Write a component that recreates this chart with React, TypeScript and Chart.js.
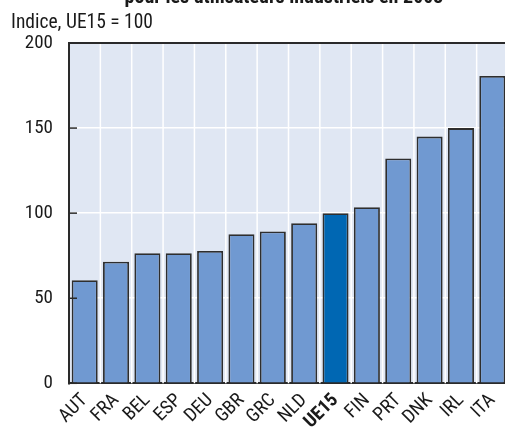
import React, { useEffect, useRef } from "react";
import { Chart, registerables } from "chart.js";

Chart.register(...registerables);

const categories = ["AUT", "FRA", "BEL", "ESP", "DEU", "GBR", "GRC", "NLD", "UE15", "FIN", "PRT", "DNK", "IRL", "ITA"];
const values = [60.6, 71.5, 76.5, 76.5, 77.8, 87.6, 89.2, 94.1, 100, 103.5, 132.1, 145, 150, 180.6];
const highlight = "UE15";
const yTicks = [0, 50, 100, 150, 200];
const titleText = "pour les utilisateurs industriels en 2003";
const unitText = "Indice, UE15 = 100";

const FONT = "Roboto, sans-serif";

export default function App() {
  const ref = useRef<HTMLCanvasElement | null>(null);

  useEffect(() => {
    if (!ref.current) return;
    document.body.style.margin = "0";

    const decor = {
      id: "decor",
      beforeDraw(chart: any) {
        const { ctx, chartArea: a } = chart;
        ctx.save();
        ctx.fillStyle = "#ffffff";
        ctx.fillRect(0, 0, chart.width, chart.height);
        ctx.fillStyle = "#e0e7f3";
        ctx.fillRect(a.left, a.top, a.right - a.left, a.bottom - a.top);
        ctx.restore();
      },
      beforeDatasetsDraw(chart: any) {
        const { ctx, chartArea: a, scales } = chart;
        const xs = scales.x;
        const half = (xs.getPixelForValue(1) - xs.getPixelForValue(0)) / 2;
        ctx.save();
        ctx.strokeStyle = "#ffffff";
        ctx.lineWidth = 1.5;
        categories.forEach((_, i) => {
          const x = xs.getPixelForValue(i) + half;
          ctx.beginPath();
          ctx.moveTo(x, a.top);
          ctx.lineTo(x, a.bottom);
          ctx.stroke();
        });
        ctx.restore();
      },
      afterDatasetsDraw(chart: any) {
        const { ctx, chartArea: a, scales } = chart;
        ctx.save();
        ctx.strokeStyle = "#2a2a2a";
        ctx.lineWidth = 1.5;
        for (const t of yTicks) {
          const y = scales.y.getPixelForValue(t);
          ctx.beginPath();
          ctx.moveTo(a.left, y);
          ctx.lineTo(a.left + 8, y);
          ctx.stroke();
        }
        ctx.lineWidth = 2;
        ctx.beginPath();
        ctx.moveTo(a.left - 1, a.top);
        ctx.lineTo(a.right, a.top);
        ctx.stroke();
        ctx.restore();
      },
      afterDraw(chart: any) {
        const { ctx } = chart;
        ctx.save();
        ctx.fillStyle = "#1a1a1a";
        ctx.textBaseline = "alphabetic";
        ctx.textAlign = "center";
        ctx.font = "bold condensed 20px " + FONT;
        ctx.fillText(titleText, 284, 3);
        ctx.textAlign = "left";
        ctx.font = "condensed 19.5px " + FONT;
        ctx.fillText(unitText, 11, 28);
        ctx.restore();
      },
    };

    const chart = new Chart(ref.current, {
      type: "bar",
      data: {
        labels: categories,
        datasets: [
          {
            data: values,
            backgroundColor: categories.map((c) => (c === highlight ? "#0067b3" : "#7099d1")),
            borderColor: "#2e2e2e",
            borderWidth: 1.8,
            barPercentage: 0.83,
            categoryPercentage: 1,
          },
        ],
      },
      options: {
        animation: false,
        responsive: false,
        maintainAspectRatio: false,
        layout: { padding: { top: 43, left: 0, right: 0, bottom: 0 } },
        plugins: { legend: { display: false }, tooltip: { enabled: false } },
        scales: {
          x: {
            offset: true,
            grid: { display: true, drawOnChartArea: false, drawTicks: false },
            border: { display: true, color: "#2a2a2a", width: 2 },
            ticks: {
              color: "#1a1a1a",
              autoSkip: false,
              minRotation: 45,
              maxRotation: 45,
              padding: 6,
              font: (ctx: any) => ({
                family: FONT,
                size: 19,
                weight: categories[ctx.index] === highlight ? "bold condensed" : "condensed",
              }),
            },
            afterFit(scale: any) {
              scale.height = 429 - 383.3;
              scale.paddingLeft = 0;
              scale.paddingRight = 0;
            },
          },
          y: {
            min: 0,
            max: 200,
            grid: { color: "#ffffff", lineWidth: 1.5, drawTicks: false },
            border: { display: true, color: "#2a2a2a", width: 2 },
            ticks: {
              stepSize: 50,
              color: "#1a1a1a",
              padding: 16,
              font: { family: FONT, size: 19, weight: "condensed" },
            },
            afterFit(scale: any) {
              scale.width = 69;
              scale.paddingTop = 0;
              scale.paddingBottom = 0;
            },
          },
        },
      },
      plugins: [decor],
    });
    return () => chart.destroy();
  }, []);

  return (
    <div style={{ position: "absolute", left: 0, top: 0, width: 505, height: 429, overflow: "hidden" }}>
      <canvas ref={ref} width={508} height={429} style={{ width: 508, height: 429, display: "block" }} />
    </div>
  );
}
